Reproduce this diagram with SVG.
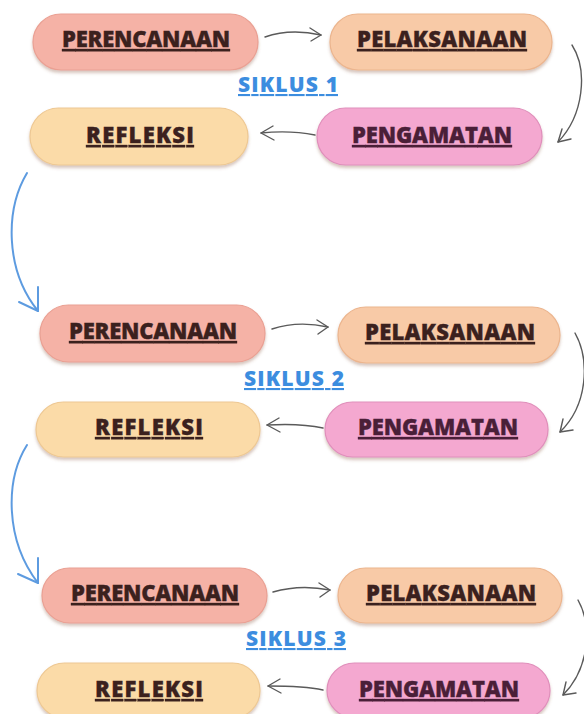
<svg xmlns="http://www.w3.org/2000/svg" width="584" height="714" viewBox="0 0 584 714">
<defs>
<filter id="sh" x="-10%" y="-20%" width="120%" height="150%">
<feDropShadow dx="0" dy="2.5" stdDeviation="1.5" flood-color="#8a5a40" flood-opacity="0.35"/>
</filter>
<style>
.pill{filter:url(#sh);stroke-width:1.2}
.per{fill:#f5b2a6;stroke:#eaa093}
.pel{fill:#f8caa7;stroke:#ecb58e}
.ref{fill:#fbdba8;stroke:#eec893}
.png{fill:#f4a8d0;stroke:#e08fbb}
.t{font-family:"Open Sans","DejaVu Sans",sans-serif;font-weight:800;font-size:22px;fill:#3b211e;stroke:#3b211e;stroke-width:0.35;text-anchor:middle;text-decoration:underline}
.tp{fill:#4a1f38;stroke:#4a1f38}
.sk{font-family:"Open Sans","DejaVu Sans",sans-serif;font-weight:800;font-size:21px;fill:#3c8ddf;text-anchor:middle;text-decoration:underline}
.g{fill:none;stroke:#5a5a5a;stroke-width:1.4;stroke-linecap:round;stroke-linejoin:round}
.b{fill:none;stroke:#5d9be0;stroke-width:2;stroke-linecap:round;stroke-linejoin:round}
</style>
</defs>
<rect width="584" height="714" fill="#ffffff"/>

<g id="connectors">
<path class="g" d="M265,37 C282,31 303,31 321,35"/><path class="g" d="M310,28 L321,35 L311,41"/>
<path class="g" d="M572,45 C588,70 584,115 558,142"/><path class="g" d="M562,129 L558,142 L571,139"/>
<path class="g" d="M315,135 C300,132 280,131 261,133"/><path class="g" d="M273,126 L261,133 L274,140"/>
<path class="b" d="M27,173 C5,210 5,270 38,311"/><path class="b" d="M19,302 L38,311 L38,287"/>

<path class="g" d="M272,329 C290,323 310,323 328,327"/><path class="g" d="M317,320 L328,327 L318,334"/>
<path class="g" d="M575,333 C590,360 588,405 560,432"/><path class="g" d="M563,419 L560,432 L573,430"/>
<path class="g" d="M323,428 C305,424 285,424 267,425"/><path class="g" d="M279,418 L267,425 L280,432"/>
<path class="b" d="M27,445 C5,480 5,540 38,583"/><path class="b" d="M18,574 L38,583 L38,558"/>

<path class="g" d="M273,592 C290,587 310,586 330,590"/><path class="g" d="M319,583 L330,590 L320,597"/>
<path class="g" d="M578,600 C592,625 590,668 563,695"/><path class="g" d="M566,682 L563,695 L576,693"/>
<path class="g" d="M323,690 C305,686 285,686 268,686"/><path class="g" d="M280,679 L268,686 L281,693"/>
</g>

<g id="siklus1"><text class="sk" x="288" y="92" textLength="100" lengthAdjust="spacing">SIKLUS 1</text></g>
<g id="siklus2"><text class="sk" x="294" y="386" textLength="100" lengthAdjust="spacing">SIKLUS 2</text></g>
<g id="siklus3"><text class="sk" x="296" y="646" textLength="100" lengthAdjust="spacing">SIKLUS 3</text></g>

<g id="perencanaan1"><rect class="pill per" x="33" y="14" width="225" height="56" rx="28"/><text class="t" x="146" y="47" textLength="168" lengthAdjust="spacing">PERENCANAAN</text></g>
<g id="pelaksanaan1"><rect class="pill pel" x="330" y="14" width="222" height="56" rx="28"/><text class="t" x="442" y="47" textLength="170" lengthAdjust="spacing">PELAKSANAAN</text></g>
<g id="refleksi1"><rect class="pill ref" x="30" y="108" width="218" height="57" rx="28.5"/><text class="t" x="140" y="143" textLength="108" lengthAdjust="spacing">REFLEKSI</text></g>
<g id="pengamatan1"><rect class="pill png" x="317" y="108" width="225" height="57" rx="28.5"/><text class="t tp" x="432" y="143" textLength="160" lengthAdjust="spacing">PENGAMATAN</text></g>

<g id="perencanaan2"><rect class="pill per" x="40" y="305" width="225" height="57" rx="28.5"/><text class="t" x="153" y="339" textLength="168" lengthAdjust="spacing">PERENCANAAN</text></g>
<g id="pelaksanaan2"><rect class="pill pel" x="338" y="307" width="222" height="56" rx="28"/><text class="t" x="450" y="340" textLength="170" lengthAdjust="spacing">PELAKSANAAN</text></g>
<g id="refleksi2"><rect class="pill ref" x="36" y="402" width="224" height="55" rx="27.5"/><text class="t" x="149" y="435" textLength="108" lengthAdjust="spacing">REFLEKSI</text></g>
<g id="pengamatan2"><rect class="pill png" x="325" y="402" width="223" height="55" rx="27.5"/><text class="t tp" x="438" y="435" textLength="160" lengthAdjust="spacing">PENGAMATAN</text></g>

<g id="perencanaan3"><rect class="pill per" x="42" y="568" width="225" height="55" rx="27.5"/><text class="t" x="155" y="601" textLength="168" lengthAdjust="spacing">PERENCANAAN</text></g>
<g id="pelaksanaan3"><rect class="pill pel" x="338" y="568" width="224" height="55" rx="27.5"/><text class="t" x="451" y="601" textLength="170" lengthAdjust="spacing">PELAKSANAAN</text></g>
<g id="refleksi3"><rect class="pill ref" x="37" y="663" width="223" height="55" rx="27.5"/><text class="t" x="149" y="697" textLength="108" lengthAdjust="spacing">REFLEKSI</text></g>
<g id="pengamatan3"><rect class="pill png" x="327" y="663" width="223" height="55" rx="27.5"/><text class="t tp" x="439" y="697" textLength="160" lengthAdjust="spacing">PENGAMATAN</text></g>
</svg>
